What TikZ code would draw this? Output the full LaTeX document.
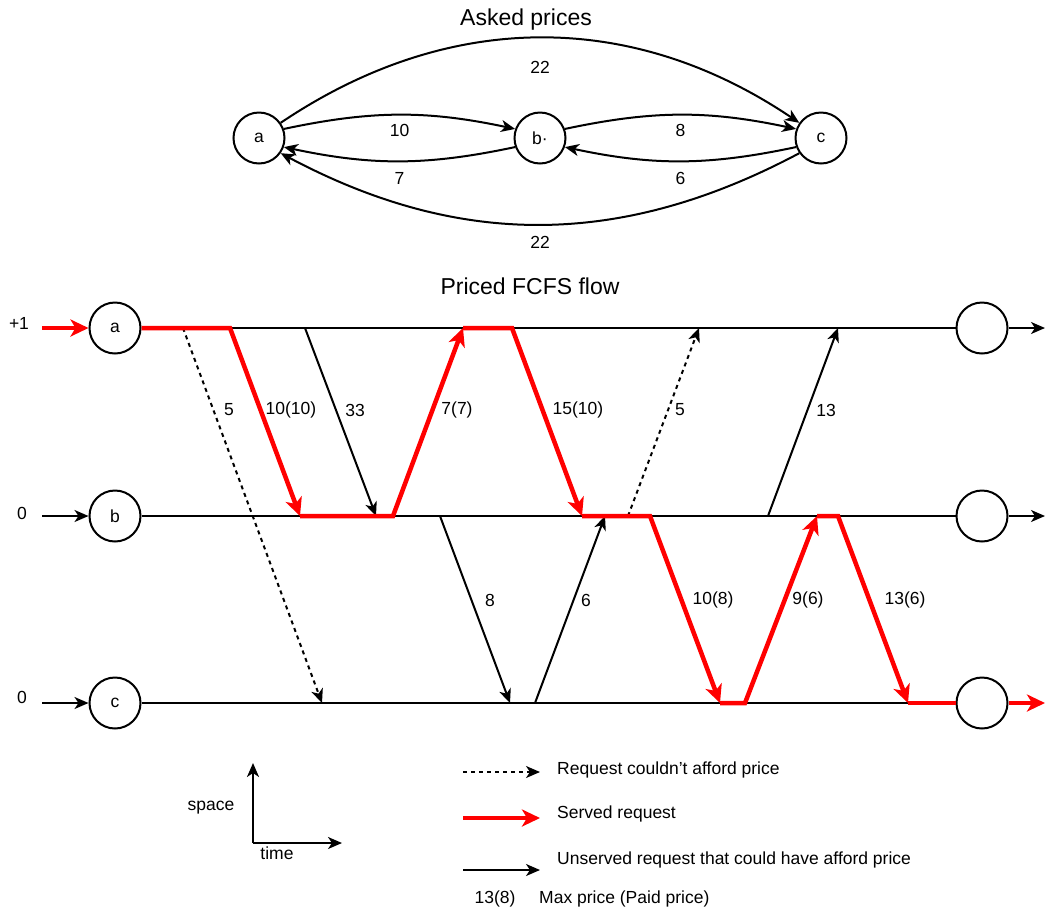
\documentclass[tikz,border=0pt]{standalone}
\usepackage{fontspec}
\setmainfont{Liberation Sans}
\usetikzlibrary{arrows.meta}
\begin{document}
\begin{tikzpicture}[x=1pt,y=-1pt,
  lbl/.style={font=\fontsize{17.5}{20}\selectfont, inner sep=0pt},
  ttl/.style={font=\fontsize{23}{26}\selectfont, inner sep=0pt},
  st/.style={draw, circle, line width=2pt, minimum size=51pt, inner sep=0pt, font=\fontsize{17.5}{20}\selectfont},
  blk/.style={line width=2pt, -{Stealth[length=14pt,width=12pt,inset=4pt]}},
  dotarr/.style={blk, dash pattern=on 4pt off 4pt},
  srv/.style={draw=red, line width=4.5pt, -{Stealth[length=18pt,width=17pt,inset=5pt]}},
  tl/.style={line width=2pt},
  rl/.style={draw=red, line width=4.5pt},
]
\useasboundingbox (0,0) rectangle (1045,914);

% ---------- Asked prices ----------
\node[ttl] (t1) at (526,20) {Asked prices};
\node[st] (A) at (259,138) {a};
\node[st] (B) at (540,138) {b·};
\node[st] (C) at (821,138) {c};
\draw[blk] (A.35) to[bend left=34] node[lbl, pos=0.5, below=22pt] {22} (C.145);
\draw[blk] (A.20) to[bend left=12] node[lbl, pos=0.5, below=8pt] {10} (B.160);
\draw[blk] (B.200) to[bend left=12] node[lbl, pos=0.5, below=10pt] {7} (A.340);
\draw[blk] (B.20) to[bend left=12] node[lbl, pos=0.5, below=8pt] {8} (C.160);
\draw[blk] (C.200) to[bend left=12] node[lbl, pos=0.5, below=10pt] {6} (B.340);
\draw[blk] (C.215) to[bend left=28] node[lbl, pos=0.5, below=11pt] {22} (A.325);

% ---------- Priced FCFS flow ----------
\node[ttl] (t2) at (530,286) {Priced FCFS flow};
\node[st] (A1) at (115,328) {a};
\node[st] (B1) at (115,516) {b};
\node[st] (C1) at (115,703) {c};
\node[st] (A2) at (982,328) {};
\node[st] (B2) at (982,516) {};
\node[st] (C2) at (982,703) {};
\node[lbl] (ia) at (19,323) {+1};
\node[lbl] (ib) at (22,513) {0};
\node[lbl] (ic) at (22,697) {0};
\coordinate (inA) at (42,328);
\coordinate (inB) at (42,516);
\coordinate (inC) at (42,703);
\coordinate (outA) at (1045,328);
\coordinate (outB) at (1045,516);
\coordinate (outC) at (1045,703);

% points on row a
\coordinate (pa0) at (183,328);
\coordinate (pa1) at (230,328);
\coordinate (pa2) at (305,328);
\coordinate (pa3) at (463,328);
\coordinate (pa4) at (512,328);
\coordinate (pa5) at (699,328);
\coordinate (pa6) at (838,328);
% points on row b
\coordinate (pb1) at (300,516);
\coordinate (pb2) at (376,516);
\coordinate (pb3) at (393,516);
\coordinate (pb4) at (440,516);
\coordinate (pb5) at (582,516);
\coordinate (pb6) at (605,516);
\coordinate (pb7) at (628,516);
\coordinate (pb8) at (650,516);
\coordinate (pb9) at (768,516);
\coordinate (pb10) at (817,516);
\coordinate (pb11) at (838,516);
% points on row c
\coordinate (pc1) at (322,703);
\coordinate (pc2) at (510,703);
\coordinate (pc3) at (535,703);
\coordinate (pc4) at (720,703);
\coordinate (pc5) at (745,703);
\coordinate (pc6) at (908,703);

% time lines
\draw[tl] (A1) -- (A2);
\draw[tl] (B1) -- (B2);
\draw[tl] (C1) -- (C2);
\draw[blk] (inB) -- (B1);
\draw[blk] (inC) -- (C1);
\draw[blk] (A2) -- (outA);
\draw[blk] (B2) -- (outB);

% unaffordable / unserved requests
\draw[dotarr] (pa0) -- (pc1) node[lbl] at (229,410) {5};
\draw[blk] (pa2) -- (pb2) node[lbl] at (355,410) {33};
\draw[dotarr] (pb7) -- (pa5) node[lbl] at (680,410) {5};
\draw[blk] (pb9) -- (pa6) node[lbl] at (826,410) {13};
\draw[blk] (pb4) -- (pc2) node[lbl] at (490,600) {8};
\draw[blk] (pc3) -- (pb6) node[lbl] at (586,600) {6};

% served requests
\draw[srv] (inA) -- (A1);
\draw[srv] (A1.east) -- (pa1) -- (pb1) node[lbl, text=black] at (291,410) {10(10)};
\draw[srv] (pb1) -- (pb3) -- (pa3) node[lbl, text=black] at (457,410) {7(7)};
\draw[srv] (pa3) -- (pa4) -- (pb5) node[lbl, text=black] at (578,410) {15(10)};
\draw[srv] (pb5) -- (pb8) -- (pc4) node[lbl, text=black] at (713,600) {10(8)};
\draw[srv] (pc4) -- (pc5) -- (pb10) node[lbl, text=black] at (808,600) {9(6)};
\draw[srv] (pb10) -- (pb11) -- (pc6) node[lbl, text=black] at (905,600) {13(6)};
\draw[rl] (pc6) -- (C2.west);
\draw[srv] (C2.east) -- (outC);

% ---------- legend ----------
\coordinate (ax0) at (253,843);
\coordinate (axU) at (253,763);
\coordinate (axR) at (342,843);
\draw[blk] (ax0) -- (axU);
\draw[blk] (ax0) -- (axR);
\node[lbl] (space) at (211,808) {space};
\node[lbl] (time) at (277,853) {time};

\coordinate (l1a) at (463,772); \coordinate (l1b) at (540,772);
\coordinate (l2a) at (463,818); \coordinate (l2b) at (540,818);
\coordinate (l3a) at (463,870); \coordinate (l3b) at (540,870);
\draw[dotarr] (l1a) -- (l1b);
\draw[srv] (l2a) -- (l2b);
\draw[blk] (l3a) -- (l3b);
\node[lbl, anchor=west] (lt1) at (557,770) {Request couldn't afford price};
\node[lbl, anchor=west] (lt2) at (557,814) {Served request};
\node[lbl, anchor=west] (lt3) at (557,860) {Unserved request that could have afford price};
\node[lbl] (lt4) at (495,899) {13(8)};
\node[lbl, anchor=west] (lt5) at (539,899) {Max price (Paid price)};
\end{tikzpicture}
\end{document}
